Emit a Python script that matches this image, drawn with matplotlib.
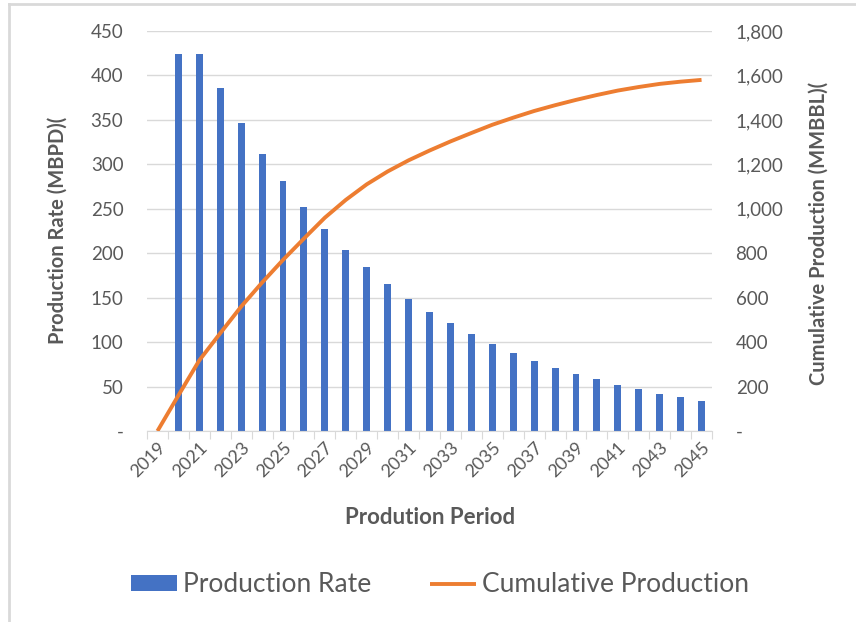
import matplotlib
import numpy as np

matplotlib.use("Agg")
import matplotlib.pyplot as plt
from matplotlib.lines import Line2D
from matplotlib.ticker import FuncFormatter

years = list(range(2019, 2046))
production_rate = [0, 424, 424, 386, 347, 312, 281, 252, 227, 204, 184, 165, 149, 134,
                   121, 109, 98, 88, 79, 71, 64, 58, 52, 47, 42, 38, 34]
cumulative = [0, 160, 318, 440, 560, 668, 770, 866, 960, 1040, 1110, 1168, 1218, 1262,
              1303, 1341, 1378, 1410, 1440, 1466, 1490, 1512, 1532, 1548, 1562, 1572, 1580]

BAR_COLOR = "#4472C4"
LINE_COLOR = "#ED7D31"
TEXT_COLOR = "#595959"
GRID_COLOR = "#D9D9D9"

plt.rcParams["font.family"] = ["Lato", "DejaVu Sans"]

fig = plt.figure(figsize=(8.56, 6.22), dpi=100)
ax = fig.add_axes([147 / 856, 1 - 431 / 622, (712 - 147) / 856, 400 / 622])
ax2 = ax.twinx()

x = np.arange(len(years))
bars = ax.bar(x, production_rate, width=0.33, color=BAR_COLOR, zorder=2, label="Production Rate")
line, = ax2.plot(x, cumulative, color=LINE_COLOR, lw=2.8, solid_capstyle="butt", label="Cumulative Production")

ax.set_xlim(-0.5, len(years) - 0.5)
ax.set_ylim(0, 450)
ax.set_yticks(np.arange(0, 451, 50))
ax2.set_ylim(0, 1800)
ax2.set_yticks(np.arange(0, 1801, 200))

dash_fmt = lambda v, p: "-" if v == 0 else f"{v:,.0f}"
ax.yaxis.set_major_formatter(FuncFormatter(dash_fmt))
ax2.yaxis.set_major_formatter(FuncFormatter(dash_fmt))

ax.grid(axis="y", color=GRID_COLOR, lw=1.0, zorder=0)
ax.set_axisbelow(True)

for a in (ax, ax2):
    for s in a.spines.values():
        s.set_visible(False)
ax.spines["bottom"].set_visible(True)
ax.spines["bottom"].set_color(GRID_COLOR)

ax.tick_params(axis="y", length=0, pad=17, labelsize=13.5, labelcolor=TEXT_COLOR)
ax2.tick_params(axis="y", length=0, pad=17, labelsize=13.5, labelcolor=TEXT_COLOR)

# tick marks on category boundaries, labels on every other category
ax.set_xticks(np.arange(len(years) + 1) - 0.5)
ax.set_xticklabels([])
ax.tick_params(axis="x", which="major", length=6, color=GRID_COLOR)
ax.set_xticks(x[::2], minor=True)
ax.set_xticklabels([str(y) for y in years[::2]], minor=True, rotation=45, ha="right",
                   rotation_mode="anchor", fontsize=13, color=TEXT_COLOR)
ax.tick_params(axis="x", which="minor", length=0, pad=6)

fig.text(58 / 856, 1 - 230 / 622, "Production Rate (MBPD)(", rotation=90, ha="center", va="center",
         fontsize=14.5, fontweight="bold", color=TEXT_COLOR)
fig.text(819 / 856, 1 - 233 / 622, "Cumulative Production (MMBBL)(", rotation=90, ha="center",
         va="center", fontsize=14.5, fontweight="bold", color=TEXT_COLOR)
fig.text(430 / 856, 1 - 518 / 622, "Prodution Period", ha="center", va="center",
         fontsize=16, fontweight="bold", color=TEXT_COLOR)

leg = fig.legend([bars, line], ["Production Rate", "Cumulative Production"], loc="center",
                 bbox_to_anchor=(440 / 856, 1 - 585 / 622), ncol=2, frameon=False,
                 fontsize=19, handlelength=1.75, handleheight=0.55, columnspacing=2.2,
                 handletextpad=0.25)
for t in leg.get_texts():
    t.set_color(TEXT_COLOR)

# outer chart-area border (left and top edges only, as in the screenshot)
fig.lines.append(Line2D([9 / 856, 9 / 856], [0, 1 - 4 / 622], transform=fig.transFigure,
                        color="#D9D9D9", lw=2.0))
fig.lines.append(Line2D([9 / 856, 1], [1 - 4 / 622, 1 - 4 / 622], transform=fig.transFigure,
                        color="#D9D9D9", lw=2.0))

fig.savefig("out.png", dpi=100)
